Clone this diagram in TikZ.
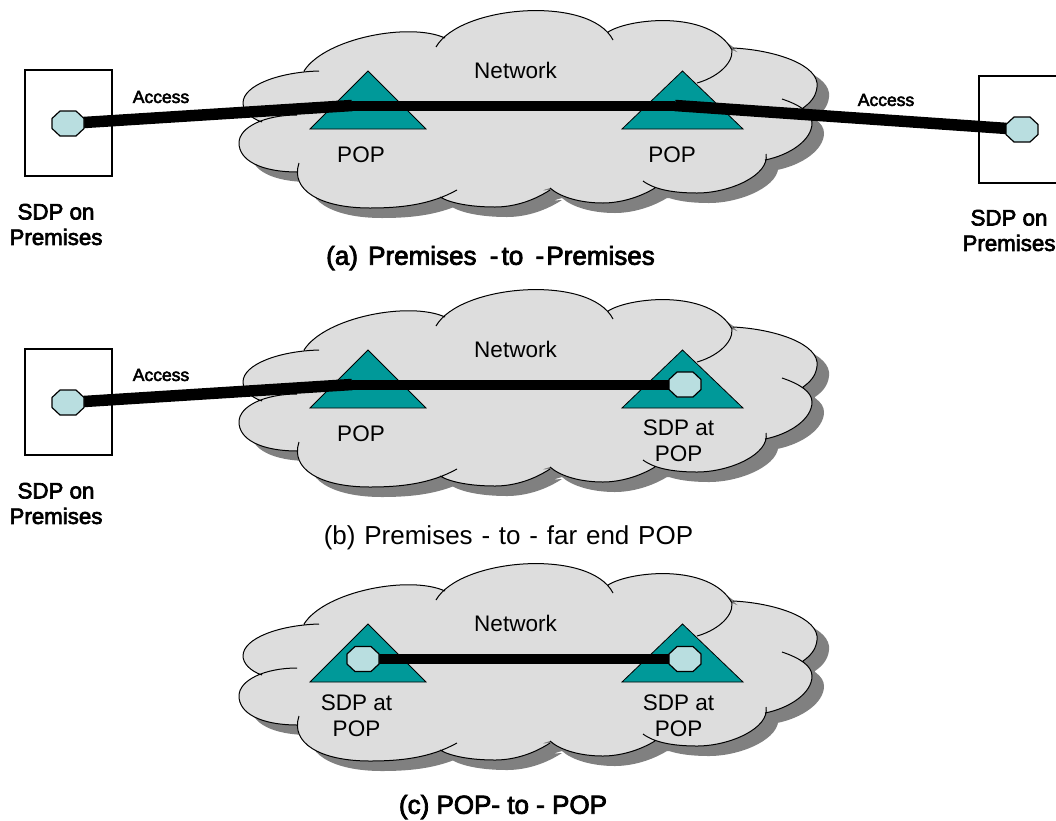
\documentclass[tikz,border=0pt]{standalone}
\usepackage{fontspec}
\setmainfont{Liberation Sans}
\newfontfamily\fakebold[FakeBold=3]{Liberation Sans}
\definecolor{cloudgray}{HTML}{DDDDDD}
\definecolor{shadowgray}{HTML}{808080}
\definecolor{popteal}{HTML}{009999}
\definecolor{sdpcyan}{HTML}{B9DEE0}
\newcommand{\cloudfillpath}{
  (304,71) .. controls (325,38) and (410,22) .. (445,38)
  (436,47) .. controls (460,5) and (590,-5) .. (613,40)
  (608,32) .. controls (630,18) and (710,10) .. (732,50) .. controls (733,65) and (715,78) .. (697,83)
  (733,48) .. controls (775,50) and (820,65) .. (817,87) .. controls (816,97) and (810,103) .. (803,108)
  (782,99) .. controls (800,105) and (812,113) .. (812,123) .. controls (812,140) and (790,155) .. (765,160)
  (766,154) .. controls (770,175) and (730,193) .. (697,193) .. controls (675,193) and (655,190) .. (643,181)
  (655,188) .. controls (635,200) and (615,203) .. (603,203) .. controls (580,203) and (560,197) .. (550,188)
  (550,190) .. controls (530,203) and (510,207) .. (495,207) .. controls (470,207) and (450,203) .. (440,197)
  (457,190) .. controls (430,205) and (400,208) .. (370,208) .. controls (320,208) and (290,190) .. (299,163)
  (298,172) .. controls (260,172) and (239,160) .. (239,143) .. controls (239,127) and (265,115) .. (297,115)
  (262,122) .. controls (250,118) and (243,110) .. (243,103) .. controls (243,85) and (280,72) .. (319,71)
}
\newcommand{\cloudbody}{
  (304,71) -- (373,38) -- (445,38) -- (525,15) -- (608,32) -- (680,25) -- (732,50) -- (790,75) -- (803,108) -- (800,135) -- (765,160) -- (700,188) -- (655,188) -- (603,200) -- (550,188) -- (495,204) -- (440,197) -- (370,205) -- (298,172) -- (250,145) -- (262,122) -- (255,100) -- cycle
}
\newcommand{\networkcloud}[1]{
  \begin{scope}[yshift=-#1pt]
    \fill[shadowgray,xshift=12pt,yshift=-10pt] \cloudfillpath \cloudbody;
    \fill[cloudgray] \cloudfillpath \cloudbody;
    \draw[cloudline] \cloudfillpath;
  \end{scope}
}
\newcommand{\poptri}[3]{
  \begin{scope}[yshift=-#1pt]
    \draw[popshape] (#2,129) -- ({(#2+#3)/2},71) -- (#3,129) -- cycle;
  \end{scope}
}
% an octagonal SDP marker: an invisible node carries the name, the outline is drawn on it
\newcommand{\sdpmark}[2]{
  \node[sdpanchor] (#1) at (#2) {};
  \draw[sdpoct] ([xshift=-16pt,yshift=-5pt]#1.center) -- ([xshift=-8pt,yshift=-12.5pt]#1.center)
    -- ([xshift=8pt,yshift=-12.5pt]#1.center) -- ([xshift=16pt,yshift=-5pt]#1.center)
    -- ([xshift=16pt,yshift=5pt]#1.center) -- ([xshift=8pt,yshift=12.5pt]#1.center)
    -- ([xshift=-8pt,yshift=12.5pt]#1.center) -- ([xshift=-16pt,yshift=5pt]#1.center) -- cycle;
}
\tikzset{
  x=1pt,y=-1pt,
  cloudline/.style={black,line width=1pt},
  popshape/.style={fill=popteal,draw=black,line width=0.8pt},
  sdpbox/.style={draw=black,line width=1.8pt,fill=white,inner sep=0pt},
  sdpanchor/.style={rectangle,minimum width=31pt,minimum height=24pt,inner sep=0pt},
  sdpoct/.style={draw=black,line width=1.2pt,fill=sdpcyan,line join=round},
  pipe/.style={black,line width=10pt},
  pipeslant/.style={black,line width=11.5pt},
  lbl/.style={font=\fontsize{22.5}{26}\selectfont,align=center,inner sep=0pt},
  boldlbl/.style={font=\fakebold\fontsize{22.3}{25.5}\selectfont,align=center,inner sep=0pt},
  accesslbl/.style={font=\fakebold\fontsize{17.5}{20}\selectfont,inner sep=0pt},
  capbold/.style={font=\fakebold\fontsize{26}{30}\selectfont,inner sep=0pt},
  capplain/.style={font=\fontsize{26}{30}\selectfont,inner sep=0pt},
}
\begin{document}
\begin{tikzpicture}
\useasboundingbox (0,0) rectangle (1056,820);
% ---- (a)
\networkcloud{0}
\poptri{0}{310}{426}
\poptri{0}{622}{743}
\node[sdpbox,minimum width=87pt,minimum height=106pt] (boxaL) at (68.5,123) {};
\node[sdpbox,minimum width=100pt,minimum height=107pt,anchor=west] (boxaR) at (978,129.5) {};
\coordinate (aB1) at (352,105.5);
\coordinate (aB2) at (675,105.5);
\node[sdpanchor] (pipeaL) at (68,123.5) {};
\node[sdpanchor] (pipeaR) at (1022,129.5) {};
\draw[pipeslant] (pipeaL) -- (aB1);
\draw[pipe] (aB1) -- (aB2);
\draw[pipeslant] (aB2) -- (pipeaR);
\sdpmark{sdpaL}{68,123.5}
\sdpmark{sdpaR}{1022,129.5}
\node[lbl] (neta) at (515.5,70) {Network};
\node[lbl] (popa1) at (361,155) {POP};
\node[lbl] (popa2) at (672,155) {POP};
\node[accesslbl] (acca1) at (161,97) {Access};
\node[accesslbl] (acca2) at (886,100) {Access};
\node[boldlbl] (sdpla) at (56,224.5) {SDP on\\Premises};
\node[boldlbl] (sdplb) at (1009,230.5) {SDP on\\Premises};
\node[capbold] (capa) at (490.5,258) {(a)\hspace{3pt} Premises\hspace{6pt} -\hspace{-4pt} to\hspace{5pt} -\hspace{-5pt} Premises};
% ---- (b)
\networkcloud{279}
\poptri{279}{310}{426}
\poptri{279}{622}{743}
\node[sdpbox,minimum width=87pt,minimum height=106pt] (boxbL) at (68.5,402) {};
\coordinate (bB1) at (352,384.5);
\node[sdpanchor] (pipebL) at (68,402.5) {};
\node[sdpanchor] (pipebR) at (685,384.5) {};
\draw[pipeslant] (pipebL) -- (bB1);
\draw[pipe] (bB1) -- (pipebR);
\sdpmark{sdpbL}{68,402.5}
\sdpmark{sdpbR}{685,384.5}
\node[lbl] (netb) at (515.5,349) {Network};
\node[lbl] (popb1) at (361,434) {POP};
\node[lbl] (popb2) at (678.5,441) {SDP at\\POP};
\node[accesslbl] (accb1) at (161,375) {Access};
\node[boldlbl] (sdplc) at (56,503.5) {SDP on\\Premises};
\node[capplain] (capb) at (508.5,538) {\spaceskip=8.8pt\relax (b) Premises - to - far end POP};
% ---- (c)
\networkcloud{553}
\poptri{553}{310}{426}
\poptri{553}{622}{743}
\node[sdpanchor] (pipecL) at (363,659) {};
\node[sdpanchor] (pipecR) at (685,659) {};
\draw[pipe] (pipecL) -- (pipecR);
\sdpmark{sdpcL}{363,659}
\sdpmark{sdpcR}{685,659}
\node[lbl] (netc) at (515.5,623) {Network};
\node[lbl] (popc1) at (356.5,716) {SDP at\\POP};
\node[lbl] (popc2) at (678.5,716) {SDP at\\POP};
\node[capbold] (capc) at (503,807) {(c) POP- to - POP};
\end{tikzpicture}
\end{document}
